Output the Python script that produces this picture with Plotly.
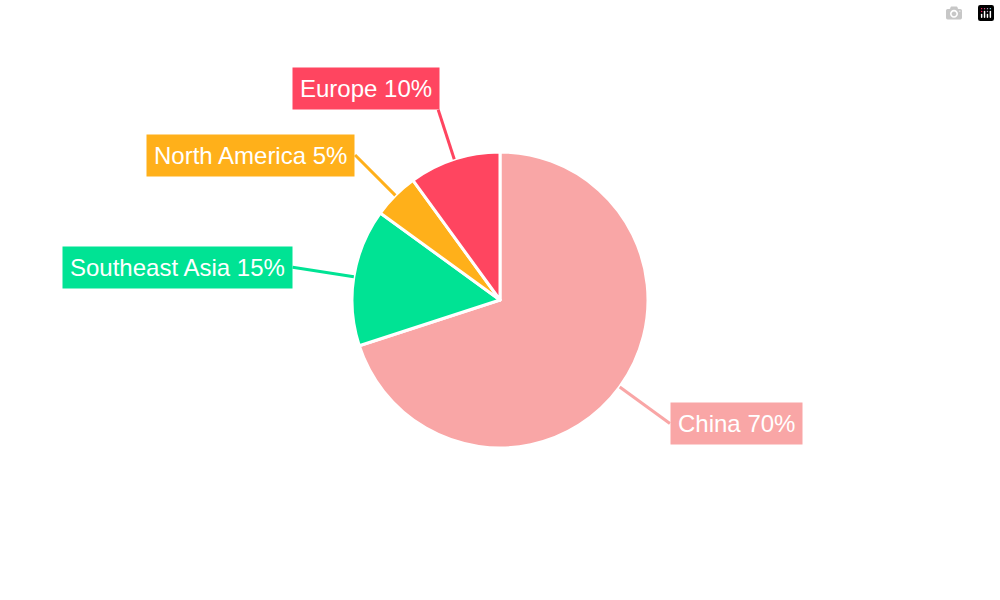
import math
import plotly.graph_objects as go

labels = ["China", "Southeast Asia", "North America", "Europe"]
values = [70, 15, 5, 10]
colors = ["#f9a6a6", "#00e394", "#ffb01a", "#ff4560"]

W, H = 1000, 600
cx, cy, R = 500, 300, 148
ext = [62, 62, 57, 52]

fig = go.Figure(go.Pie(
    labels=labels, values=values, sort=False, direction="clockwise", rotation=0,
    marker=dict(colors=colors, line=dict(color="white", width=3)),
    textinfo="none", hoverinfo="label+percent", showlegend=False,
    domain=dict(x=[(cx - R) / W, (cx + R) / W], y=[1 - (cy + R) / H, 1 - (cy - R) / H]),
))

total = sum(values)
cum = 0
shapes, anns = [], []
for lab, v, col, e in zip(labels, values, colors, ext):
    mid = (cum + v / 2) / total * 2 * math.pi
    cum += v
    s, c = math.sin(mid), math.cos(mid)
    x0, y0 = cx + R * s, cy - R * c
    x1, y1 = cx + (R + e) * s, cy - (R + e) * c
    shapes.append(dict(type="line", xref="paper", yref="paper",
                       x0=x0 / W, y0=1 - y0 / H, x1=x1 / W, y1=1 - y1 / H,
                       line=dict(color=col, width=3)))
    if abs(c) > 0.9:
        xa, ya = ("right" if s < 0 else "left"), ("bottom" if c > 0 else "top")
        xs = 2 if s < 0 else -2
    else:
        xa, ya = ("right" if s < 0 else "left"), "middle"
        xs = 0
    anns.append(dict(x=x1 / W, y=1 - y1 / H, xref="paper", yref="paper",
                     text=f"{lab} {round(v / total * 100)}%", showarrow=False,
                     xanchor=xa, yanchor=ya, xshift=xs, bgcolor=col, borderpad=7,
                     font=dict(family="Liberation Sans, Arial, sans-serif", size=24, color="white")))

fig.update_layout(width=W, height=H, margin=dict(l=0, r=0, t=0, b=0),
                  paper_bgcolor="white", shapes=shapes, annotations=anns)
fig.write_html("out.html", post_script="document.body.style.margin='0';")
